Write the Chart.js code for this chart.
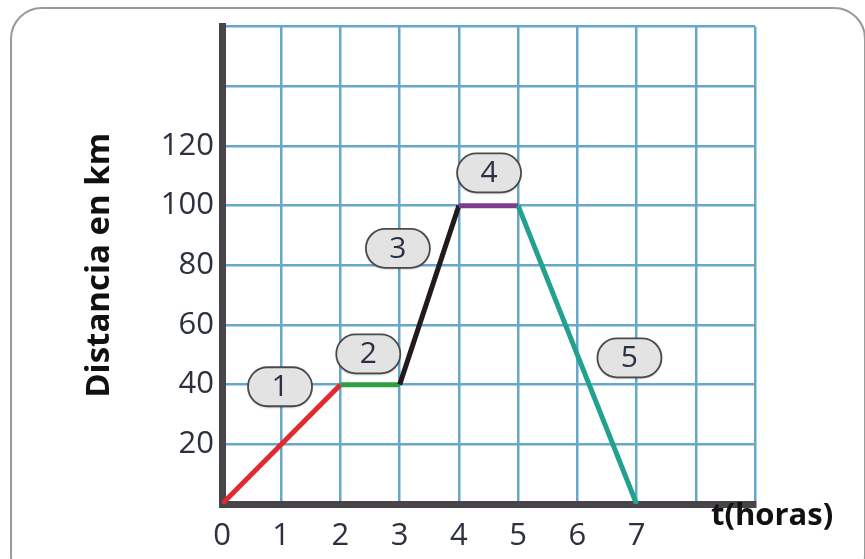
<!DOCTYPE html>
<html>
<head>
<meta charset="utf-8">
<script src="https://cdn.jsdelivr.net/npm/chart.js@4.4.1/dist/chart.umd.min.js"></script>
<style>
  html, body { margin: 0; padding: 0; background: #fff; overflow: hidden; }
  #wrap { position: relative; width: 865px; height: 559px; }
  #frame {
    position: absolute; left: 10px; top: 7px; width: 856px; height: 580px;
    border: 2px solid #9a9a9a; border-radius: 32px; box-sizing: border-box;
  }
  #myChart { position: absolute; left: 0; top: 0; }
</style>
</head>
<body>
<div id="wrap">
  <div id="frame"></div>
  <canvas id="myChart" width="865" height="559"></canvas>
</div>
<script>
// trip: time in hours vs distance in km
const hours = [0, 2, 3, 4, 5, 7];
const distance = [0, 40, 40, 100, 100, 0];
const segmentColors = ["#e02a2e", "#2f9e45", "#231a1c", "#7d3b8e", "#22a18f"];

const yTicksShown = [20, 40, 60, 80, 100, 120];
const xTicksShown = [0, 1, 2, 3, 4, 5, 6, 7];

// numbered tags for each stretch of the trip
const tagNames = ["1", "2", "3", "4", "5"];
const tagX = [0.98, 2.47, 2.97, 4.51, 6.88];
const tagY = [39.3, 50.3, 85.7, 111, 49];

const inkColor = "#2c3040";
const gridColor = "#67a7ca";
const axisColor = "#48444a";
const digitFont = "'Open Sans'";

const tagsPlugin = {
  id: "tags",
  afterDatasetsDraw(chart) {
    const ctx = chart.ctx;
    const xs = chart.scales.x, ys = chart.scales.y;
    const w = 64, h = 39, r = h / 2;
    ctx.save();
    tagNames.forEach((t, i) => {
      const cx = xs.getPixelForValue(tagX[i]);
      const cy = ys.getPixelForValue(tagY[i]);
      ctx.beginPath();
      ctx.roundRect(cx - w / 2, cy - h / 2, w, h, r);
      ctx.fillStyle = "#e3e3e4";
      ctx.shadowColor = "rgba(0,0,0,0.25)";
      ctx.shadowOffsetY = 1.5;
      ctx.shadowBlur = 2;
      ctx.fill();
      ctx.shadowColor = "transparent";
      ctx.lineWidth = 1.8;
      ctx.strokeStyle = "#4a4a4a";
      ctx.stroke();
      ctx.fillStyle = inkColor;
      ctx.font = "30px " + digitFont;
      ctx.textAlign = "center";
      ctx.textBaseline = "middle";
      ctx.fillText(t, cx, cy + 1);
    });
    // x axis name at the end of the axis
    ctx.fillStyle = "#111";
    ctx.font = "bold 31px 'Open Sans'";
    ctx.textAlign = "left";
    ctx.textBaseline = "middle";
    ctx.fillText("t(horas)", 711, 516);
    ctx.restore();
  }
};

new Chart(document.getElementById("myChart"), {
  type: "line",
  data: {
    datasets: [
      {
        data: hours.map((h, i) => ({ x: h, y: distance[i] })),
        borderWidth: 5,
        borderColor: segmentColors[0],
        segment: { borderColor: c => segmentColors[c.p0DataIndex] },
        pointRadius: 0,
        tension: 0,
        fill: false
      }
    ]
  },
  options: {
    responsive: false,
    animation: false,
    layout: { padding: { top: 23, right: 110, left: 0, bottom: 0 } },
    plugins: { legend: { display: false }, tooltip: { enabled: false } },
    scales: {
      x: {
        type: "linear",
        min: 0,
        max: 9,
        afterFit: s => { s.height = 55; },
        ticks: {
          stepSize: 1,
          padding: 14,
          color: inkColor,
          font: { family: digitFont, size: 31 },
          maxRotation: 0,
          autoSkip: false,
          callback: v => (xTicksShown.includes(v) ? String(v) : "")
        },
        grid: { color: gridColor, lineWidth: 2.5, drawTicks: false },
        border: { color: axisColor, width: 7 }
      },
      y: {
        min: 0,
        max: 160,
        afterFit: s => { s.width = 222; },
        ticks: {
          stepSize: 20,
          padding: 8,
          color: inkColor,
          font: { family: digitFont, size: 31 },
          callback: v => (yTicksShown.includes(v) ? String(v) : "")
        },
        grid: { color: gridColor, lineWidth: 2.5, drawTicks: false },
        border: { color: axisColor, width: 7 },
        title: {
          display: true,
          text: "Distancia en km",
          color: "#111",
          font: { family: "Open Sans", size: 33, weight: "bold" },
          padding: { top: 80, bottom: 0 }
        }
      }
    }
  },
  plugins: [tagsPlugin]
});
</script>
</body>
</html>
